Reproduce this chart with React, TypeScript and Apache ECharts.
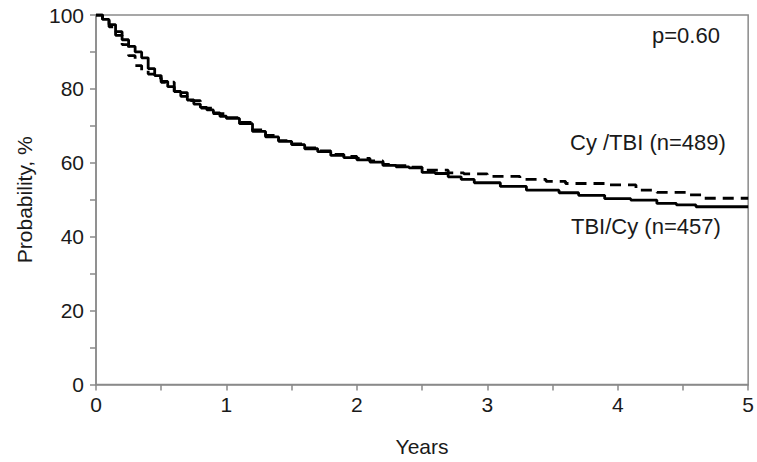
import React, { useEffect, useRef } from "react";
import * as echarts from "echarts";

const tbiCyTimes = [0, 0.05, 0.1, 0.15, 0.2, 0.25, 0.3, 0.35, 0.4, 0.45, 0.5, 0.55, 0.6, 0.65, 0.7, 0.75, 0.8, 0.85, 0.9, 0.95, 1.0, 1.1, 1.2, 1.3, 1.4, 1.5, 1.6, 1.7, 1.8, 1.9, 2.0, 2.1, 2.2, 2.3, 2.4, 2.5, 2.6, 2.7, 2.8, 2.9, 3.1, 3.3, 3.55, 3.7, 3.9, 4.1, 4.3, 4.45, 4.6, 5.0];
const tbiCyValues = [100, 98.8, 97.4, 95.5, 93.3, 91.5, 90.0, 88.4, 85.5, 83.6, 82.0, 80.6, 79.3, 78.0, 77.0, 75.9, 75.0, 74.3, 73.5, 72.6, 72.0, 70.6, 68.5, 67.0, 65.8, 64.9, 63.8, 63.0, 62.0, 61.4, 60.8, 60.2, 59.3, 58.9, 58.6, 57.4, 57.1, 56.2, 55.5, 54.6, 53.6, 52.6, 51.9, 51.2, 50.3, 49.9, 49.0, 48.6, 48.1, 48.1];

const cyTbiTimes = [0, 0.05, 0.1, 0.15, 0.2, 0.25, 0.3, 0.35, 0.4, 0.45, 0.5, 0.6, 0.7, 0.8, 0.9, 1.0, 1.1, 1.2, 1.3, 1.4, 1.5, 1.6, 1.7, 1.8, 1.9, 2.0, 2.1, 2.2, 2.3, 2.4, 2.5, 2.7, 2.82, 3.0, 3.25, 3.45, 3.6, 3.9, 4.14, 4.3, 4.55, 4.65, 5.0];
const cyTbiValues = [100, 98.5, 96.8, 94.5, 92.0, 89.0, 86.3, 85.0, 84.0, 83.0, 81.8, 79.0, 76.8, 74.8, 73.3, 72.2, 70.9, 68.9, 67.4, 66.0, 65.1, 64.0, 63.2, 62.3, 61.7, 61.2, 60.5, 59.6, 59.2, 58.8, 58.0, 57.3, 57.0, 56.3, 55.5, 55.0, 54.4, 54.0, 52.6, 52.0, 51.3, 50.4, 50.4];

const xTicks = [0, 1, 2, 3, 4, 5];
const yTicks = [0, 20, 40, 60, 80, 100];

const FONT = "Liberation Sans, Arial, sans-serif";
const AXIS_COLOR = "#8a8a8a";
const TEXT_COLOR = "#1a1a1a";

export default function App() {
  const ref = useRef<HTMLDivElement>(null);
  useEffect(() => {
    if (!ref.current) return;
    const chart = echarts.init(ref.current, undefined, { renderer: "svg" });
    const axisCommon = {
      axisLine: { show: true, lineStyle: { color: AXIS_COLOR, width: 1.5 } },
      axisTick: { show: true, inside: false, length: 6, lineStyle: { color: AXIS_COLOR, width: 1.5 } },
      minorTick: { show: true, splitNumber: 2, length: 6, lineStyle: { color: AXIS_COLOR, width: 1.5 } },
      splitLine: { show: false },
    };
    chart.setOption({
      animation: false,
      backgroundColor: "#ffffff",
      grid: { left: 96, right: 5, top: 15, bottom: 77.5, show: true, borderColor: AXIS_COLOR, borderWidth: 1.5 },
      xAxis: {
        type: "value",
        min: 0,
        max: 5,
        interval: 1,
        name: "Years",
        nameLocation: "middle",
        nameGap: 51,
        nameTextStyle: { fontFamily: FONT, fontSize: 21, color: TEXT_COLOR },
        axisLabel: {
          fontFamily: FONT,
          fontSize: 21,
          color: TEXT_COLOR,
          margin: 9,
          formatter: (v: number) => (xTicks.includes(v) ? String(v) : ""),
        },
        ...axisCommon,
      },
      yAxis: {
        type: "value",
        min: 0,
        max: 100,
        interval: 20,
        name: "Probability, %",
        nameLocation: "middle",
        nameGap: 61,
        nameTextStyle: { fontFamily: FONT, fontSize: 21, color: TEXT_COLOR },
        axisLabel: {
          fontFamily: FONT,
          fontSize: 21,
          color: TEXT_COLOR,
          margin: 12,
          formatter: (v: number) => (yTicks.includes(v) ? String(v) : ""),
        },
        ...axisCommon,
      },
      series: [
        {
          name: "TBI/Cy (n=457)",
          type: "line",
          step: "end",
          symbol: "none",
          data: tbiCyTimes.map((t, i) => [t, tbiCyValues[i]]),
          lineStyle: { color: "#000000", width: 2.8 },
          z: 3,
        },
        {
          name: "Cy /TBI (n=489)",
          type: "line",
          step: "end",
          symbol: "none",
          data: cyTbiTimes.map((t, i) => [t, cyTbiValues[i]]),
          lineStyle: { color: "#000000", width: 2.8, type: [11, 7] },
          z: 2,
        },
      ],
      graphic: [
        {
          type: "text",
          left: 652,
          top: 24,
          style: { text: "p=0.60", font: `22px ${FONT}`, fill: TEXT_COLOR },
        },
        {
          type: "text",
          left: 570,
          top: 131,
          style: { text: "Cy /TBI (n=489)", font: `22px ${FONT}`, fill: TEXT_COLOR },
        },
        {
          type: "text",
          left: 571,
          top: 215,
          style: { text: "TBI/Cy (n=457)", font: `22px ${FONT}`, fill: TEXT_COLOR },
        },
      ],
    });
    return () => chart.dispose();
  }, []);
  return <div ref={ref} style={{ width: 757, height: 462, position: "absolute", left: 0, top: 0 }} />;
}
